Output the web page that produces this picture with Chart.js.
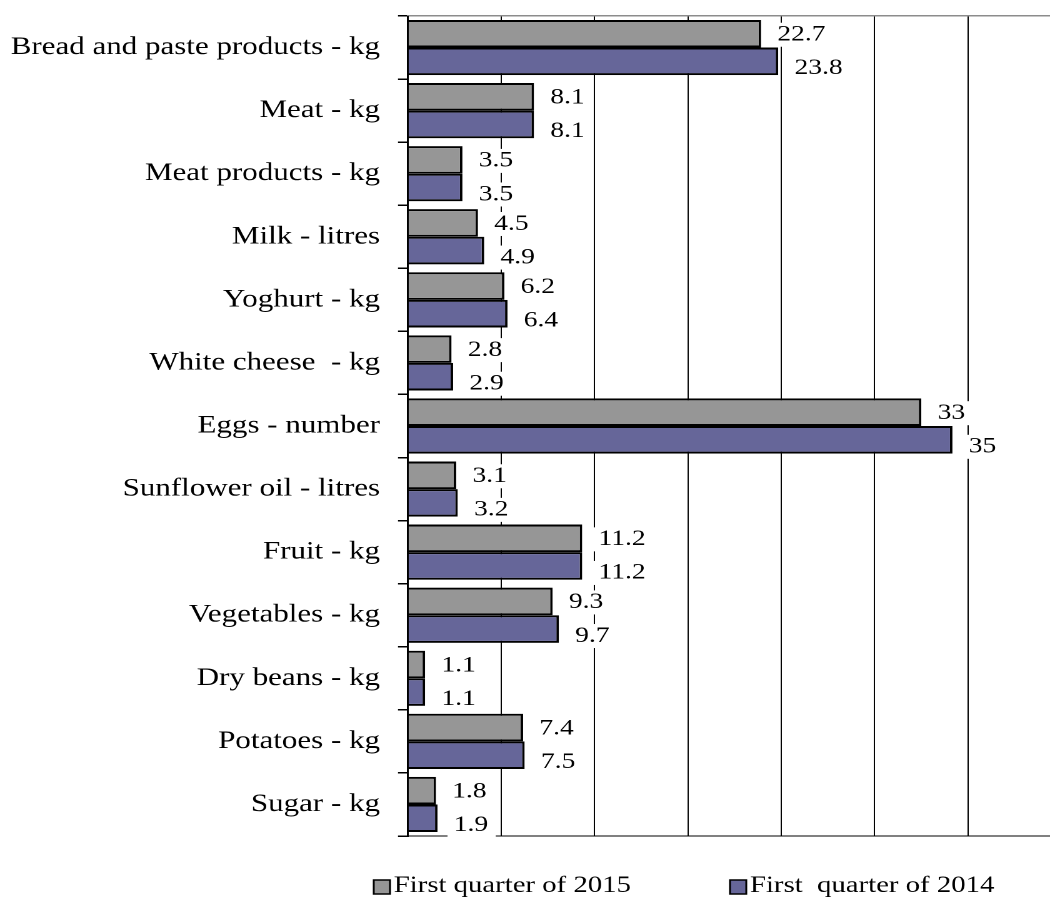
<!DOCTYPE html>
<html lang="en">
<head>
    <meta charset="UTF-8">
    <title>Consumption per household member</title>
    <script src="https://cdn.jsdelivr.net/npm/chart.js"></script>
    <style>
        body { margin: 0; background: #fff; }
    </style>
</head>
<body>
    <!-- the reference is stretched sideways, so the canvas is drawn narrow and widened -->
    <canvas id="chart" width="840" height="899" style="display:block;width:1050px;height:899px"></canvas>

    <script>
        const categories = [
            'Bread and paste products - kg',
            'Meat - kg',
            'Meat products - kg',
            'Milk - litres',
            'Yoghurt - kg',
            'White cheese  - kg',
            'Eggs - number',
            'Sunflower oil - litres',
            'Fruit - kg',
            'Vegetables - kg',
            'Dry beans - kg',
            'Potatoes - kg',
            'Sugar - kg'
        ];
        const q2015 = [22.7, 8.1, 3.5, 4.5, 6.2, 2.8, 33, 3.1, 11.2, 9.3, 1.1, 7.4, 1.8];
        const q2014 = [23.8, 8.1, 3.5, 4.9, 6.4, 2.9, 35, 3.2, 11.2, 9.7, 1.1, 7.5, 1.9];
        const seriesNames = ['First quarter of 2015', 'First  quarter of 2014'];

        const serif = 'Liberation Serif';

        // value next to each bar, on a white box
        const valueLabels = {
            id: 'valueLabels',
            afterDatasetsDraw(chart) {
                const ctx = chart.ctx;
                ctx.save();
                ctx.font = '22px "' + serif + '"';
                ctx.textBaseline = 'middle';
                chart.data.datasets.forEach((ds, i) => {
                    const dy = i === 0 ? 1 : 7;
                    chart.getDatasetMeta(i).data.forEach((bar, j) => {
                        const txt = String(ds.data[j]);
                        const w = ctx.measureText(txt).width;
                        const x = bar.x + 13;
                        const y = bar.y + dy;
                        ctx.fillStyle = '#fff';
                        ctx.fillRect(x - 5, y - 12, w + 11, 24);
                        ctx.fillStyle = '#000';
                        ctx.fillText(txt, x, y);
                    });
                });
                ctx.restore();
            }
        };

        // legend under the plot
        const bottomLegend = {
            id: 'bottomLegend',
            afterDraw(chart) {
                const ctx = chart.ctx;
                const y = 886;
                const items = [[299, chart.data.datasets[0]], [584, chart.data.datasets[1]]];
                ctx.save();
                ctx.font = '23px "' + serif + '"';
                ctx.textBaseline = 'middle';
                items.forEach(([x, ds]) => {
                    ctx.fillStyle = ds.backgroundColor;
                    ctx.fillRect(x, y - 6, 13, 14);
                    ctx.strokeStyle = '#000';
                    ctx.lineWidth = 1.5;
                    ctx.strokeRect(x, y - 6, 13, 14);
                    ctx.fillStyle = '#000';
                    ctx.fillText(ds.label, x + 16, y);
                });
                ctx.restore();
            }
        };

        new Chart(document.getElementById('chart'), {
            type: 'bar',
            data: {
                labels: categories,
                datasets: [{
                    label: seriesNames[0],
                    data: q2015,
                    backgroundColor: '#969696',
                    borderColor: '#000',
                    borderWidth: 2,
                    borderSkipped: 'start'
                }, {
                    label: seriesNames[1],
                    data: q2014,
                    backgroundColor: '#666699',
                    borderColor: '#000',
                    borderWidth: 2,
                    borderSkipped: 'start'
                }]
            },
            options: {
                indexAxis: 'y',
                responsive: false,
                animation: false,
                devicePixelRatio: 2,
                layout: { padding: { top: 16, right: 0, bottom: 63, left: 0 } },
                datasets: { bar: { categoryPercentage: 0.875, barPercentage: 1 } },
                plugins: {
                    legend: { display: false },
                    tooltip: { enabled: false }
                },
                scales: {
                    x: {
                        min: 0,
                        max: 41.27,
                        ticks: { display: false, stepSize: 6 },
                        grid: {
                            drawTicks: false,
                            color: c => (c.tick && c.tick.value % 6 === 0) ? '#000' : 'transparent',
                            lineWidth: 1
                        },
                        border: { color: '#000', width: 1 },
                        afterFit: s => { s.height = 0; s.paddingLeft = 0; s.paddingRight = 0; }
                    },
                    y: {
                        ticks: {
                            color: '#000',
                            padding: 14.4,
                            font: { family: serif, size: 24.8 }
                        },
                        grid: {
                            offset: true,
                            tickLength: 8,
                            tickColor: '#000',
                            color: c => c.index === 0 ? '#8c8c8c' : 'transparent',
                            lineWidth: 1.5
                        },
                        border: { color: '#000', width: 1.5 },
                        afterFit: s => { s.width = 326.4; s.paddingTop = 0; s.paddingBottom = 0; }
                    }
                }
            },
            plugins: [valueLabels, bottomLegend]
        });
    </script>
</body>
</html>
